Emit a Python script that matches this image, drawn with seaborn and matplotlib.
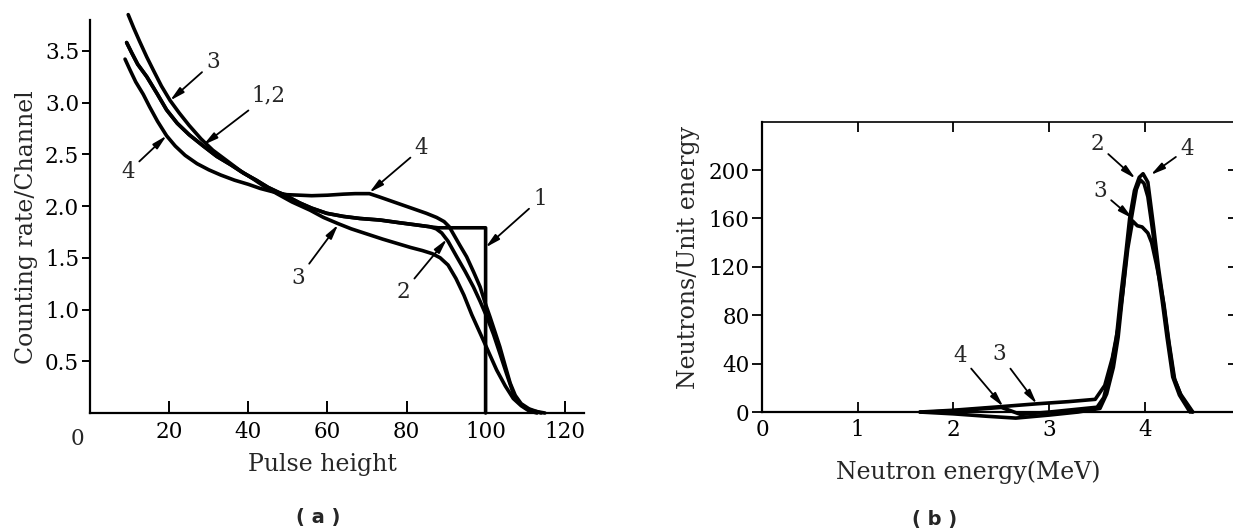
import matplotlib
matplotlib.use('Agg')
import matplotlib.pyplot as plt
import seaborn as sns

# ---- (a) pulse height spectra ----
pulse_12 = [9.2, 10.5, 12, 14.3, 17, 19.3, 22, 25, 28.6, 32, 35.5, 38.7, 42, 45, 47.2, 50, 53, 56, 59.8, 64, 68.2, 73.3, 78, 82, 85.9]
rate_12 = [3.58, 3.48, 3.37, 3.25, 3.08, 2.93, 2.80, 2.69, 2.58, 2.48, 2.40, 2.32, 2.25, 2.18, 2.14, 2.09, 2.03, 1.98, 1.93, 1.90, 1.88, 1.865, 1.84, 1.82, 1.80]

pulse_1 = pulse_12 + [88, 90, 100, 100]
rate_1 = rate_12 + [1.79, 1.79, 1.79, 0]

pulse_2 = pulse_12 + [87.5, 88.9, 90.5, 92.7, 94.8, 96.9, 98.6, 100.3, 102, 103.6, 105.3, 107, 108.5, 110, 112, 115]
rate_2 = rate_12 + [1.78, 1.74, 1.66, 1.51, 1.37, 1.22, 1.08, 0.93, 0.76, 0.577, 0.38, 0.19, 0.10, 0.05, 0.02, 0]

pulse_3 = [9.6, 11, 12.5, 14.3, 16, 18, 20.2, 22.5, 25, 28, 31, 34.5, 38, 41.3, 44, 47.2, 51, 55.6, 59, 62.7, 66, 70, 74, 77.5,
           81, 84, 86.5, 88.5, 90.5, 92.5, 94.5, 96.5, 99.4, 102.8, 105, 107, 109, 111, 113]
rate_3 = [3.85, 3.72, 3.59, 3.44, 3.31, 3.16, 3.02, 2.90, 2.78, 2.65, 2.54, 2.44, 2.34, 2.26, 2.19, 2.12, 2.04, 1.96, 1.89, 1.83,
          1.78, 1.73, 1.68, 1.64, 1.60, 1.57, 1.54, 1.50, 1.43, 1.30, 1.14, 0.95, 0.705, 0.415, 0.26, 0.14, 0.07, 0.02, 0]

pulse_4 = [8.8, 10, 11.5, 13.4, 15, 17, 19.3, 21.5, 24, 27, 30, 33, 36.5, 40, 43, 46, 49.7, 53, 56, 60, 64, 67, 70.6, 73, 76,
           79, 82, 85, 87.6, 89.5, 90.8, 92, 93.5, 95.2, 97, 98.6, 100, 101.1, 102.4, 103.6, 105, 106.2, 107.5, 109, 111, 114]
rate_4 = [3.42, 3.32, 3.20, 3.08, 2.96, 2.82, 2.68, 2.58, 2.49, 2.41, 2.35, 2.30, 2.25, 2.21, 2.17, 2.14, 2.11, 2.105, 2.10, 2.105,
          2.115, 2.12, 2.12, 2.09, 2.05, 2.01, 1.97, 1.93, 1.89, 1.85, 1.80, 1.72, 1.62, 1.51, 1.36, 1.22, 1.05, 0.93, 0.78, 0.64,
          0.45, 0.29, 0.17, 0.09, 0.04, 0]

# ---- (b) unfolded neutron spectra ----
energy_2 = [1.65, 2.0, 2.35, 2.65, 3.0, 3.3, 3.53, 3.6, 3.67, 3.72, 3.77, 3.81, 3.86, 3.91, 3.95, 3.99, 4.03, 4.08, 4.13, 4.18,
            4.23, 4.29, 4.36, 4.47]
neut_2 = [0, -1.5, -3.5, -5, -2.5, 0, 3, 15, 37, 62, 100, 133, 161, 184, 192, 189, 178, 150, 120, 92, 62, 29, 14, 0]

energy_3 = [1.65, 2.0, 2.5, 2.87, 3.2, 3.48, 3.58, 3.66, 3.72, 3.77, 3.82, 3.87, 3.92, 3.97, 4.03, 4.07, 4.12, 4.16, 4.2,
            4.25, 4.31, 4.38, 4.49]
neut_3 = [0, 1.5, 4.5, 6.8, 8.6, 10.5, 22, 45, 70, 100, 135, 158, 154, 153, 148, 140, 122, 106, 88, 58, 27, 13, 0]

energy_4 = [1.75, 2.1, 2.5, 2.6, 2.7, 3.0, 3.5, 3.57, 3.64, 3.7, 3.75, 3.8, 3.84, 3.89, 3.94, 3.98, 4.03, 4.09, 4.14, 4.19,
            4.24, 4.30, 4.37, 4.5]
neut_4 = [0, 1.5, 3.8, 1, -2, 0, 4, 12, 35, 60, 98, 131, 160, 183, 194, 197, 190, 153, 120, 92, 62, 29, 15, 0]

a_xticks = [20, 40, 60, 80, 100, 120]
a_yticks = [0.5, 1.0, 1.5, 2.0, 2.5, 3.0, 3.5]
b_xticks = [0, 1, 2, 3, 4]
b_yticks = [0, 40, 80, 120, 160, 200]

sns.set_theme(style='ticks')
plt.rcParams['font.family'] = ['DejaVu Serif']

fig = plt.figure(figsize=(12.33, 5.31), dpi=100)
ax1 = fig.add_axes([0.0732, 0.2222, 0.4008, 0.760])
ax2 = fig.add_axes([0.618, 0.2058, 0.3836, 0.565])

lw = 2.6
for xs, ys in [(pulse_1, rate_1), (pulse_2, rate_2), (pulse_3, rate_3), (pulse_4, rate_4)]:
    sns.lineplot(x=xs, y=ys, ax=ax1, color='black', lw=lw, sort=False, estimator=None)
for xs, ys in [(energy_2, neut_2), (energy_3, neut_3), (energy_4, neut_4)]:
    sns.lineplot(x=xs, y=ys, ax=ax2, color='black', lw=lw, sort=False, estimator=None)

for ln in ax1.lines + ax2.lines:
    ln.set_clip_on(False)
    ln.set_solid_joinstyle('round')

# panel (a) axes
ax1.set_xlim(0, 125)
ax1.set_ylim(0, 3.9)
ax1.spines['top'].set_visible(False)
ax1.spines['right'].set_visible(False)
ax1.spines['left'].set_bounds(0, 3.8)
for s in ['left', 'bottom']:
    ax1.spines[s].set_linewidth(1.6)
    ax1.spines[s].set_color('black')
ax1.set_xticks(a_xticks)
ax1.set_yticks(a_yticks)
ax1.set_yticklabels([f'{v:.1f}' for v in a_yticks])
ax1.tick_params(axis='x', direction='in', length=9, width=1.4, labelsize=15.5, pad=6, colors='black')
ax1.tick_params(axis='y', direction='out', length=6, width=1.4, labelsize=15.5, pad=2, colors='black')
ax1.annotate('0', xy=(0, 0), xytext=(-9, -19), textcoords='offset points',
             ha='center', va='center', fontsize=15.5)
ax1.set_xlabel('Pulse height', fontsize=17)
ax1.set_ylabel('Counting rate/Channel', fontsize=17)
ax1.xaxis.set_label_coords(0.469, -0.127)
ax1.xaxis.label.set_va('center')
ax1.yaxis.set_label_coords(-0.128, 0.46)
ax1.yaxis.label.set_va('center')

arrow = dict(arrowstyle='-|>,head_length=0.55,head_width=0.13', color='black', lw=1.3, shrinkA=1, shrinkB=0)
a_labels = [
    ('3', (31.1, 3.39), (20.2, 3.02)),
    ('1,2', (45.0, 3.07), (28.6, 2.59)),
    ('4', (9.6, 2.33), (19.3, 2.68)),
    ('4', (83.8, 2.56), (70.6, 2.13)),
    ('1', (113.8, 2.07), (100.0, 1.6)),
    ('2', (79.2, 1.17), (90.2, 1.68)),
    ('3', (52.6, 1.30), (62.7, 1.82)),
]
for txt, tpos, tip in a_labels:
    ax1.annotate(txt, xy=tip, xytext=tpos, ha='center', va='center', fontsize=15.5,
                 arrowprops=arrow, annotation_clip=False)

# panel (b) axes
ax2.set_xlim(0, 4.94)
ax2.set_ylim(-8, 240)
ax2.spines['bottom'].set_position(('data', 0))
ax2.spines['left'].set_bounds(0, 240)
for s in ['left', 'bottom']:
    ax2.spines[s].set_linewidth(1.6)
    ax2.spines[s].set_color('black')
ax2.spines['top'].set_linewidth(1.2)
ax2.spines['top'].set_color('black')
ax2.spines['right'].set_color('black')
ax2.set_xticks(b_xticks)
ax2.set_yticks(b_yticks)
ax2.tick_params(axis='x', direction='in', top=True, length=7, width=1.3, labelsize=15.5, pad=5, colors='black')
ax2.tick_params(axis='y', direction='out', length=7, width=1.3, labelsize=15.5, pad=2, colors='black')
sec = ax2.secondary_yaxis('right')
sec.set_yticks([40, 80, 120, 160, 200])
sec.tick_params(direction='in', length=5, width=1.3, labelright=False, colors='black')
ax2.set_xlabel('Neutron energy(MeV)', fontsize=17)
ax2.set_ylabel('Neutrons/Unit energy', fontsize=17)
ax2.xaxis.set_label_coords(0.4355, -0.167)
ax2.xaxis.label.set_va('center')
ax2.yaxis.set_label_coords(-0.156, 0.548)
ax2.yaxis.label.set_va('center')

b_labels = [
    ('2', (3.50, 221.6), (3.90, 193)),
    ('4', (4.44, 217.5), (4.06, 196)),
    ('3', (3.53, 183), (3.87, 160)),
    ('4', (2.07, 46.7), (2.52, 4.5)),
    ('3', (2.48, 48), (2.87, 6.8)),
]
for txt, tpos, tip in b_labels:
    ax2.annotate(txt, xy=tip, xytext=tpos, ha='center', va='center', fontsize=15.5,
                 arrowprops=arrow, annotation_clip=False)

fig.text(318 / 1233, 1 - 517 / 531, '( a )', ha='center', va='center', fontsize=14,
         family='DejaVu Sans', weight='bold')
fig.text(935 / 1233, 1 - 519 / 531, '( b )', ha='center', va='center', fontsize=14,
         family='DejaVu Sans', weight='bold')

fig.savefig('out.png', dpi=100)
